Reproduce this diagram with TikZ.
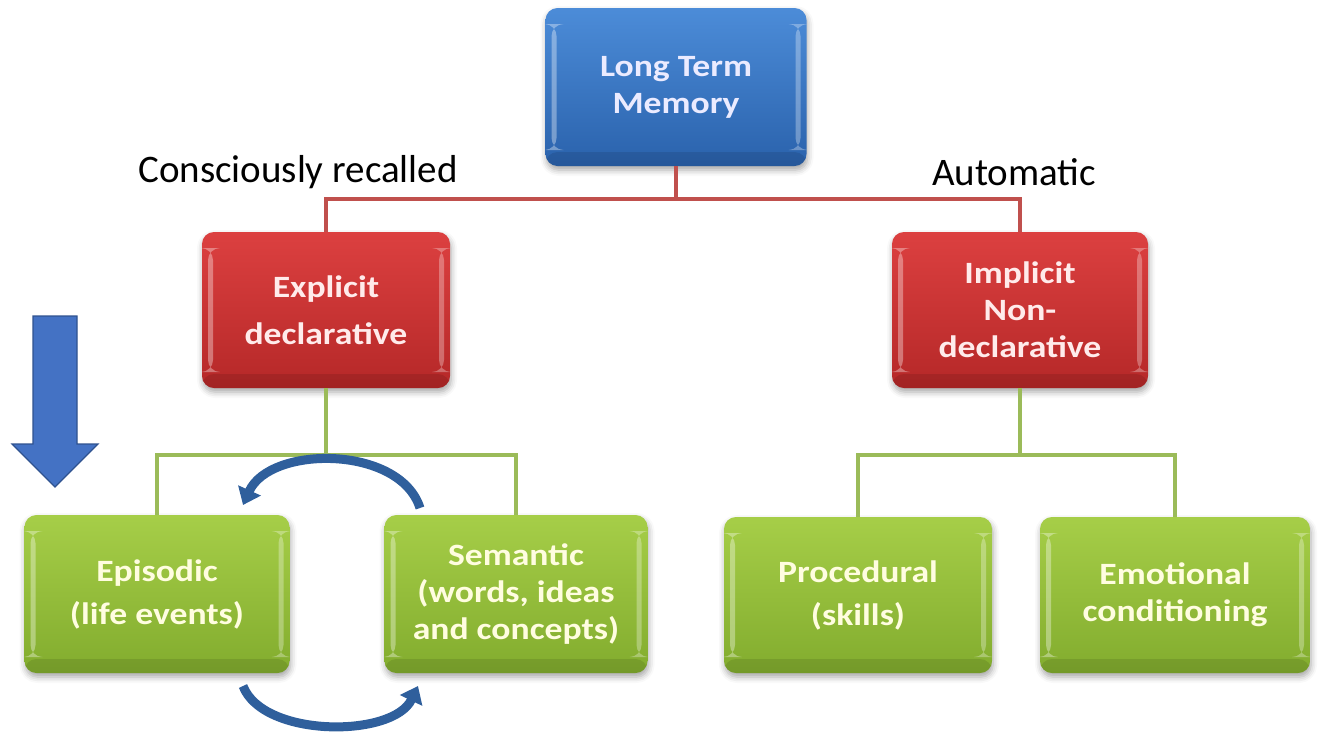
\documentclass[tikz,border=0pt]{standalone}
\usepackage{fontspec}
\setmainfont{Carlito}
\newfontfamily\boxfont[UprightFont={* Bold}, FakeStretch=1.15]{Carlito}
\usetikzlibrary{shadows.blur,arrows.meta,calc}

\definecolor{ltmtop}{HTML}{4C8CD8}
\definecolor{ltmbot}{HTML}{2A62AC}
\definecolor{redtop}{HTML}{DC4040}
\definecolor{redbot}{HTML}{B52828}
\definecolor{grntop}{HTML}{A6CE48}
\definecolor{grnbot}{HTML}{82AC2E}
\definecolor{redline}{HTML}{C0504D}
\definecolor{grnline}{HTML}{9BBB59}
\definecolor{cycblue}{HTML}{2F5F9C}
\definecolor{arrfill}{HTML}{4472C4}
\definecolor{arrdraw}{HTML}{2F528F}

\tikzset{
  memorybox/.style={
    rectangle, rounded corners=12pt, inner sep=4pt, align=center,
    font=\boxfont\fontsize{31}{37}\selectfont,
    blur shadow={shadow xshift=1pt, shadow yshift=-4pt, shadow blur radius=6pt, shadow opacity=35},
    path picture={
      \fill[white,opacity=0.35]
        ([xshift=6pt,yshift=-16pt]path picture bounding box.north west) rectangle
        ([xshift=11pt,yshift=16pt]path picture bounding box.south west);
      \fill[white,opacity=0.30]
        ([xshift=-11pt,yshift=-16pt]path picture bounding box.north east) rectangle
        ([xshift=-6pt,yshift=16pt]path picture bounding box.south east);
      \fill[black,opacity=0.10]
        ([yshift=14pt]path picture bounding box.south west) rectangle
        (path picture bounding box.south east);
    }
  },
  bluebox/.style={memorybox, top color=ltmtop, bottom color=ltmbot, text=white!92!blue},
  redbox/.style={memorybox, top color=redtop, bottom color=redbot, text=white!92!red},
  greenbox/.style={memorybox, top color=grntop, bottom color=grnbot, text=white!88!yellow},
  redlink/.style={draw=redline, line width=4pt},
  greenlink/.style={draw=grnline, line width=4pt},
  cyclearrow/.style={draw=cycblue, line width=9pt, -{Triangle[length=16pt,width=24pt]}},
  sidelabel/.style={font=\fontsize{39}{44}\selectfont, text=black},
  bigarrow/.style={fill=arrfill, draw=arrdraw, line width=1.2pt, line join=miter}
}

\begin{document}
\begin{tikzpicture}[x=1pt,y=-1pt]
\useasboundingbox (0,0) rectangle (1332,734);

% memory boxes
\node[bluebox, minimum width=261pt, minimum height=158pt] (ltm) at (676,87)
  {Long Term\\Memory};
\node[redbox, minimum width=248pt, minimum height=156pt] (exp) at (326,310)
  {Explicit\\[10pt]declarative};
\node[redbox, minimum width=256pt, minimum height=156pt] (imp) at (1020,310)
  {Implicit\\Non-\\declarative};
\node[greenbox, minimum width=265pt, minimum height=158pt] (epi) at (157,594)
  {Episodic\\[6pt](life events)};
\node[greenbox, minimum width=263pt, minimum height=158pt] (sem) at (516,594)
  {Semantic\\(words, ideas\\and concepts)};
\node[greenbox, minimum width=268pt, minimum height=156pt] (pro) at (858,595)
  {Procedural\\[6pt](skills)};
\node[greenbox, minimum width=270pt, minimum height=156pt] (emo) at (1175,595)
  {Emotional\\conditioning};

% side labels
\node[sidelabel] (consc) at (298,172) {Consciously recalled};
\node[sidelabel] (auto) at (1014,172) {Automatic};

% tree connectors
\draw[redlink] (ltm.south) -- ++(0,33) -| (exp.north);
\draw[redlink] (ltm.south) -- ++(0,33) -| (imp.north);
\draw[greenlink] (exp.south) -- ++(0,67) -| (epi.north);
\draw[greenlink] (exp.south) -- ++(0,67) -| (sem.north);
\draw[greenlink] (imp.south) -- ++(0,67) -| (pro.north);
\draw[greenlink] (imp.south) -- ++(0,67) -| (emo.north);

% circular arrows between episodic and semantic
\coordinate (topstart) at (420,508);
\coordinate (topend) at (243,505);
\coordinate (botstart) at (243,686);
\coordinate (botend) at (418,686);
\draw[cyclearrow] (topstart) .. controls (400,445) and (270,445) .. (topend);
\draw[cyclearrow] (botstart) .. controls (263,738) and (393,738) .. (botend);

% block arrow on the left
\path[bigarrow] (33,316) -- (77,316) -- (77,444) -- (98,444) -- (55,487)
  -- (12,444) -- (33,444) -- cycle;
\end{tikzpicture}
\end{document}
